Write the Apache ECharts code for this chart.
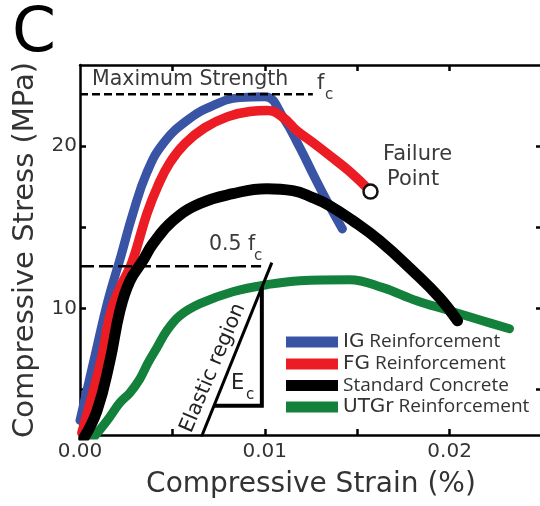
<!DOCTYPE html>
<html>
<head>
<meta charset="utf-8">
<script src="https://cdn.jsdelivr.net/npm/echarts@6/dist/echarts.min.js"></script>
<style>
html,body{margin:0;padding:0;background:#fff;}
#chart{width:540px;height:506px;}
</style>
</head>
<body>
<div id="chart"></div>
<script>
// ---- data (strain in %, stress in MPa) ----
const seriesNames = ['IG Reinforcement', 'FG Reinforcement', 'Standard Concrete', 'UTGr Reinforcement'];

const igStrain = [0, 0.00081, 0.00151, 0.00222, 0.00286, 0.00362, 0.00449, 0.00578, 0.00719, 0.00865, 0.0100, 0.0110, 0.0119, 0.0126, 0.01335, 0.0142];
const igStress = [3.1, 7.08, 10.47, 13.25, 15.84, 18.37, 20.15, 21.57, 22.5, 22.99, 23.05, 21.76, 19.9, 18.3, 16.64, 14.9];

const fgStrain = [0.0001, 0.00043, 0.00114, 0.00168, 0.00227, 0.00281, 0.00362, 0.00422, 0.00486, 0.00568, 0.00676, 0.0080, 0.00919, 0.01016, 0.0110, 0.01173, 0.0126, 0.01351, 0.0146, 0.01568];
const fgStress = [2.33, 3.69, 6.78, 9.86, 11.52, 12.82, 15.84, 17.57, 18.98, 20.16, 21.14, 21.82, 22.13, 22.19, 21.76, 20.96, 20.22, 19.42, 18.43, 17.26];

const scStrain = [0.0002, 0.00092, 0.00162, 0.00216, 0.0027, 0.0034, 0.00395, 0.00503, 0.00649, 0.00827, 0.01011, 0.01151, 0.01259, 0.01351, 0.01476, 0.01622, 0.018, 0.01946, 0.02043];
const scStress = [2.0, 3.69, 6.78, 9.86, 11.7, 12.94, 13.99, 15.41, 16.46, 17.07, 17.38, 17.26, 16.83, 16.33, 15.41, 14.17, 12.32, 10.66, 9.24];

const utStrain = [0.0007, 0.00146, 0.00216, 0.0027, 0.00324, 0.00368, 0.00416, 0.0047, 0.0054, 0.00649, 0.00827, 0.01011, 0.01189, 0.01459, 0.01638, 0.01822, 0.0200, 0.02178, 0.02324];
const utStress = [2.0, 3.08, 4.19, 4.8, 5.66, 6.64, 7.58, 8.63, 9.55, 10.29, 11.03, 11.46, 11.71, 11.77, 11.28, 10.47, 9.86, 9.24, 8.75];

const failurePoint = [0.01572, 17.2];

const maxStrength = 23.2;      // f_c
const maxLineEnd = 0.0126;
const halfStrength = 12.6;     // 0.5 f_c
const halfLineEnd = 0.0098;

const elasticStrain = [0.00654, 0.01038];
const elasticStress = [2.0, 12.82];
const triStrain = [0.00725, 0.00984, 0.00984];
const triStress = [4.0, 4.0, 11.3];

const xTickValues = [0.005, 0.01, 0.015, 0.02];
const xLabelValues = [0, 0.01, 0.02];
const yTickValues = [5, 10, 15, 20];
const yLabelValues = [10, 20];

// ---- build ----
const zip = (a, b) => a.map((v, i) => [v, b[i]]);
const FONT = 'DejaVu Sans';
const TXT = '#333';

const chart = echarts.init(document.getElementById('chart'), null, {renderer: 'canvas'});

const axisLineStyle = {color: '#000', width: 2.5};
function xAx(pos, show) {
  return {
    type: 'value', min: 0, max: 0.025, position: pos,
    axisLine: {show: true, onZero: false, lineStyle: axisLineStyle},
    axisTick: {show: true, inside: true, length: 6, customValues: xTickValues, lineStyle: {color: '#000', width: 2.5}},
    axisLabel: show ? {show: true, customValues: xLabelValues, formatter: v => v.toFixed(2), fontFamily: FONT, fontSize: 20, color: TXT, margin: 7} : {show: false},
    splitLine: {show: false},
    name: show ? 'Compressive Strain (%)' : '',
    nameLocation: 'middle', nameGap: 36,
    nameTextStyle: {fontFamily: FONT, fontSize: 28, color: TXT}
  };
}
function yAx(pos, show) {
  return {
    type: 'value', min: 2.2, max: 25, position: pos,
    axisLine: {show: true, onZero: false, lineStyle: axisLineStyle},
    axisTick: {show: true, inside: true, length: 6, customValues: yTickValues, lineStyle: {color: '#000', width: 2.5}},
    axisLabel: show ? {show: true, customValues: yLabelValues, fontFamily: FONT, fontSize: 20, color: TXT, margin: 3} : {show: false},
    splitLine: {show: false},
    name: show ? 'Compressive Stress (MPa)' : '',
    nameLocation: 'middle', nameGap: 40,
    nameTextStyle: {fontFamily: FONT, fontSize: 29, color: TXT}
  };
}

function curve(name, xs, ys, color, width, z, smooth) {
  return {
    name, type: 'line', data: zip(xs, ys), showSymbol: false, symbol: 'none',
    smooth: smooth, color: color, z: z,
    lineStyle: {color: color, width: width, cap: 'round', join: 'round'},
    clip: true
  };
}

const option = {
  animation: false,
  backgroundColor: '#fff',
  grid: {left: 80, top: 65, width: 462, height: 370, containLabel: false, outerBoundsMode: 'none'},
  xAxis: [xAx('bottom', true), xAx('top', false)],
  yAxis: [yAx('left', true), yAx('right', false)],
  legend: {
    data: ['IG Reinforcement', 'FG Reinforcement', 'Standard Concrete', 'UTGr Reinforcement'],
    orient: 'vertical', left: 286, top: 332, itemWidth: 52, itemHeight: 11, itemGap: 2,
    icon: 'rect', padding: 0,
    formatter: function (name) {
      if (name.indexOf('Standard') === 0) return '{b|' + name + '}';
      const i = name.indexOf(' ');
      return '{a|' + name.slice(0, i) + '}{b| ' + name.slice(i + 1) + '}';
    },
    textStyle: {
      color: TXT,
      rich: {
        a: {fontFamily: FONT, fontSize: 20, color: TXT, lineHeight: 20},
        b: {fontFamily: 'Open Sans', fontSize: 19, color: TXT, lineHeight: 20}
      }
    }
  },
  series: [
    curve(seriesNames[3], utStrain, utStress, '#13803b', 9, 2, 0.4),
    curve(seriesNames[0], igStrain, igStress, '#3a54a5', 9, 3, 0.45),
    curve(seriesNames[1], fgStrain, fgStress, '#ec1c24', 9.5, 4, 0.45),
    curve(seriesNames[2], scStrain, scStress, '#000000', 11, 5, 0.45),
    {
      type: 'line', data: [[0, maxStrength], [maxLineEnd, maxStrength]], symbol: 'none', z: 6,
      lineStyle: {color: '#000', width: 2.5, type: [8, 4]}
    },
    {
      type: 'line', data: [[0, halfStrength], [halfLineEnd, halfStrength]], symbol: 'none', z: 6,
      lineStyle: {color: '#000', width: 2.5, type: [14, 5]}
    },
    {
      type: 'line', data: zip(elasticStrain, elasticStress), symbol: 'none', z: 6, clip: true,
      lineStyle: {color: '#000', width: 3}
    },
    {
      type: 'line', data: zip(triStrain, triStress), symbol: 'none', z: 6,
      lineStyle: {color: '#000', width: 4, join: 'miter'}
    },
    {
      type: 'scatter', data: [failurePoint], symbol: 'circle', symbolSize: 14, z: 8,
      itemStyle: {color: '#fff', borderColor: '#111', borderWidth: 2.5, opacity: 1}
    }
  ],
  graphic: [
    {type: 'text', x: 12, y: 35, style: {text: 'C', fontFamily: FONT, fontSize: 63, fill: '#000', align: 'left', verticalAlign: 'middle'}},
    {type: 'text', x: 92, y: 80, style: {text: 'Maximum Strength', fontFamily: FONT, fontSize: 20.5, fill: '#3a3a3a', align: 'left', verticalAlign: 'middle'}},
    {type: 'text', x: 317, y: 84, style: {text: 'f', fontFamily: FONT, fontSize: 21, fill: '#3a3a3a', align: 'left', verticalAlign: 'middle'}},
    {type: 'text', x: 325, y: 95, style: {text: 'c', fontFamily: FONT, fontSize: 15, fill: '#3a3a3a', align: 'left', verticalAlign: 'middle'}},
    {type: 'text', x: 209, y: 245, style: {text: '0.5 f', fontFamily: FONT, fontSize: 20.5, fill: '#3a3a3a', align: 'left', verticalAlign: 'middle'}},
    {type: 'text', x: 254, y: 256, style: {text: 'c', fontFamily: FONT, fontSize: 15, fill: '#3a3a3a', align: 'left', verticalAlign: 'middle'}},
    {type: 'text', x: 231, y: 384, style: {text: 'E', fontFamily: FONT, fontSize: 21, fill: '#222', align: 'left', verticalAlign: 'middle'}},
    {type: 'text', x: 246, y: 395, style: {text: 'c', fontFamily: FONT, fontSize: 15, fill: '#222', align: 'left', verticalAlign: 'middle'}},
    {type: 'text', x: 213, y: 368, rotation: 67 * Math.PI / 180, style: {text: 'Elastic region', fontFamily: FONT, fontSize: 20.5, fill: '#222', align: 'center', verticalAlign: 'middle'}},
    {type: 'text', x: 383, y: 155, style: {text: 'Failure', fontFamily: FONT, fontSize: 21, fill: '#3a3a3a', align: 'left', verticalAlign: 'middle'}},
    {type: 'text', x: 387, y: 180, style: {text: 'Point', fontFamily: FONT, fontSize: 21, fill: '#3a3a3a', align: 'left', verticalAlign: 'middle'}}
  ]
};
chart.setOption(option);
</script>
</body>
</html>
